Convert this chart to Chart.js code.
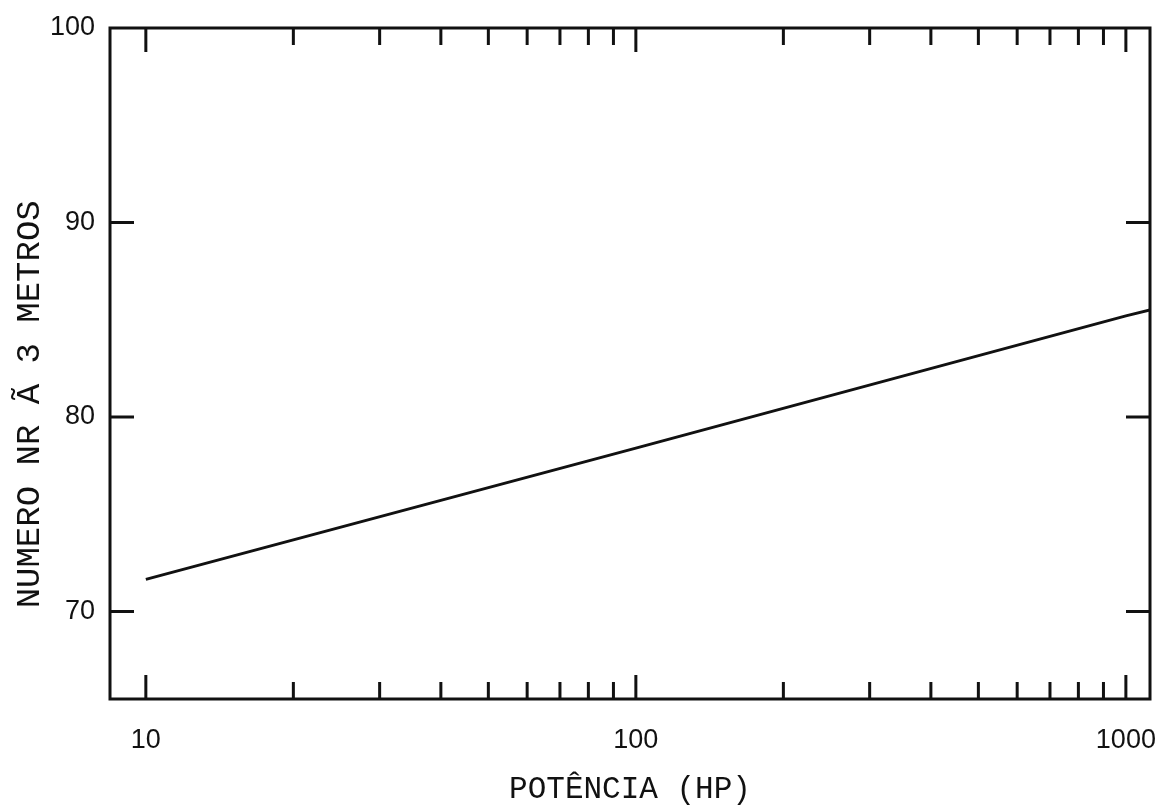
<!DOCTYPE html>
<html>
<head>
<meta charset="utf-8">
<script src="https://cdn.jsdelivr.net/npm/chart.js@4"></script>
<style>
  html, body { margin: 0; padding: 0; background: #fff; }
  #wrap { width: 1174px; height: 811px; }
</style>
</head>
<body>
<div id="wrap"><canvas id="nrChart"></canvas></div>
<script>
// values
const powerHp = [10, 100, 1000, 1120];
const nrLevel = [71.65, 78.4, 85.2, 85.5];
const decadeTicks = [10, 100, 1000];
const minorTicks = [20, 30, 40, 50, 60, 70, 80, 90, 200, 300, 400, 500, 600, 700, 800, 900];
const levelTicks = [70, 80, 90, 100];

const ink = '#111';

// box round the plot with inward ticks, like the original drawing
const frameTicks = {
  id: 'frameTicks',
  afterDatasetsDraw(chart) {
    const {ctx, chartArea: a, scales: {x, y}} = chart;
    ctx.save();
    ctx.strokeStyle = ink;
    ctx.lineWidth = 3;
    ctx.strokeRect(a.left, a.top, a.right - a.left, a.bottom - a.top);
    ctx.beginPath();
    decadeTicks.concat(minorTicks).forEach(function(v) {
      const px = x.getPixelForValue(v);
      const len = decadeTicks.includes(v) ? 24 : 17;
      ctx.moveTo(px, a.bottom); ctx.lineTo(px, a.bottom - len);
      ctx.moveTo(px, a.top); ctx.lineTo(px, a.top + len);
    });
    levelTicks.filter(v => v < 100).forEach(function(v) {
      const py = y.getPixelForValue(v);
      ctx.moveTo(a.left, py); ctx.lineTo(a.left + 24, py);
      ctx.moveTo(a.right, py); ctx.lineTo(a.right - 24, py);
    });
    ctx.stroke();
    ctx.restore();
  }
};

document.addEventListener('DOMContentLoaded', function(){
  new Chart(document.getElementById('nrChart'), {
    type: 'line',
    data: {
      datasets: [{
        data: powerHp.map((p, i) => ({x: p, y: nrLevel[i]})),
        borderColor: ink,
        borderWidth: 3,
        pointRadius: 0,
        fill: false,
        tension: 0
      }]
    },
    options: {
      responsive: true,
      maintainAspectRatio: false,
      animation: false,
      layout: { padding: { top: 28, right: 24, left: 0, bottom: 0 } },
      plugins: { legend: { display: false }, tooltip: { enabled: false } },
      scales: {
        x: {
          type: 'logarithmic',
          min: 8.45,
          max: 1120,
          afterBuildTicks: s => { s.ticks = decadeTicks.map(v => ({value: v})); },
          afterFit: s => { s.height = 112; s.paddingRight = 0; },
          grid: { display: false },
          border: { display: false },
          ticks: {
            color: ink,
            padding: 17,
            maxRotation: 0,
            font: { family: 'Liberation Sans', size: 27 },
            callback: v => String(v)
          },
          title: {
            display: true,
            text: 'POTÊNCIA (HP)',
            color: ink,
            padding: { top: 0, bottom: 3 },
            font: { family: 'Liberation Mono', size: 31 }
          }
        },
        y: {
          min: 65.5,
          max: 100,
          afterBuildTicks: s => { s.ticks = levelTicks.map(v => ({value: v})); },
          afterFit: s => { s.width = 110; },
          grid: { display: false },
          border: { display: false },
          ticks: {
            color: ink,
            padding: 7,
            font: { family: 'Liberation Sans', size: 27 }
          },
          title: {
            display: true,
            text: 'NUMERO NR Ã 3 METROS    ',
            color: ink,
            padding: { top: 10, bottom: 0 },
            font: { family: 'Liberation Mono', size: 34 }
          }
        }
      }
    },
    plugins: [frameTicks]
  });
});
</script>
</body>
</html>
